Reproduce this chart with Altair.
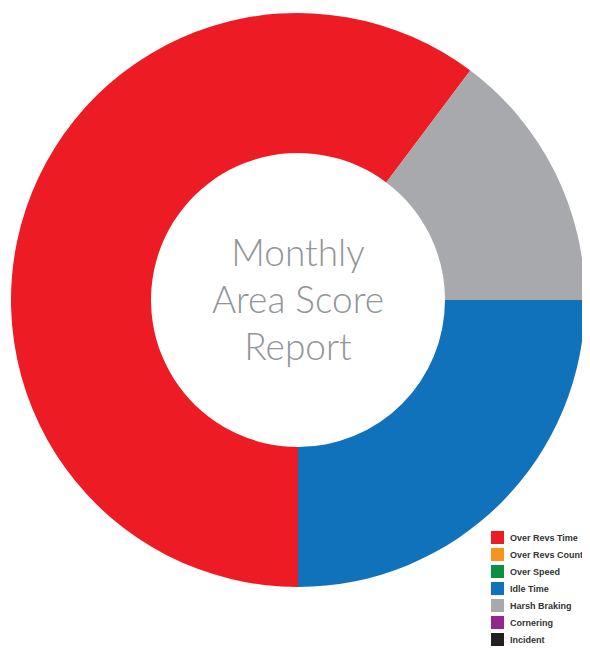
import math
import altair as alt
import pandas as pd

categories = ["Over Revs Time", "Over Revs Count", "Over Speed", "Idle Time",
              "Harsh Braking", "Cornering", "Incident"]
colors = ["#ED1C24", "#F7941D", "#0A8F46", "#1072BA", "#A7A9AC", "#92278F", "#231F20"]
# share of the month (percent) as read from the donut
values = [60.25, 0, 0, 25.0, 14.75, 0, 0]
# drawing order round the ring, starting at 3 o'clock
ring_order = [2, 4, 5, 1, 3, 6, 7]
title_lines = ["Monthly", "Area Score", "Report"]

df = pd.DataFrame({"category": categories, "value": values, "ord": ring_order})
df_text = pd.DataFrame({"label": ["\n".join(title_lines)]})

start = math.pi / 2
arc = alt.Chart(df).mark_arc(innerRadius=147, outerRadius=287, stroke=None).encode(
    theta=alt.Theta("value:Q", stack=True,
                    scale=alt.Scale(range=[start, start + 2 * math.pi])),
    order=alt.Order("ord:Q"),
    color=alt.Color("category:N",
                    scale=alt.Scale(domain=categories, range=colors),
                    sort=categories,
                    legend=alt.Legend(
                        title=None, orient="none", legendX=483, legendY=523,
                        symbolType="square", symbolSize=169, symbolStrokeWidth=0,
                        symbolOpacity=1, rowPadding=4, labelOffset=6,
                        labelFont="Liberation Sans", labelFontWeight="bold",
                        labelFontSize=9, labelColor="#333333", labelLimit=200,
                        padding=0)),
    x=alt.value(290),
    y=alt.value(292),
)

text = alt.Chart(df_text).mark_text(
    lineBreak="\n", lineHeight=47, fontSize=37, font="Lato", fontWeight=300,
    color="#939598", align="center", baseline="middle"
).encode(text="label:N", x=alt.value(290), y=alt.value(247))

chart = alt.layer(arc, text).properties(
    width=574, height=639, padding=0,
    autosize=alt.AutoSizeParams(type="none")
).configure_view(stroke=None)

chart.save("out.html", embed_options={"renderer": "svg", "actions": False})
